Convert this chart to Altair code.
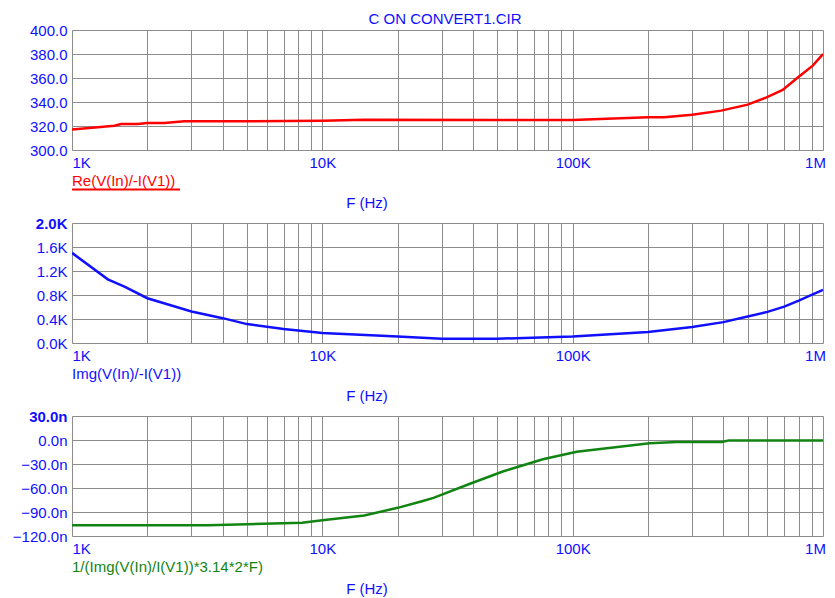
import altair as alt
import pandas as pd

# ---- data ----
title_text = "C ON CONVERT1.CIR"
x_title = "F (Hz)"

re_label = "Re(V(In)/-I(V1))"
re_freq = [1000, 1267, 1477, 1570, 1830, 2000, 2340, 2810, 5000, 10000, 14700, 50000,
           100000, 200000, 232000, 300000, 392000, 500000, 595000, 690000, 800000, 910000, 1000000]
re_vals = [317.0, 318.9, 320.2, 321.7, 321.7, 322.5, 322.5, 323.9, 324.0, 324.4, 325.2, 325.0,
           325.0, 327.2, 327.2, 329.4, 332.8, 337.8, 343.9, 350.0, 361.0, 370.3, 380.0]

img_label = "Img(V(In)/-I(V1))"
img_freq = [1000, 1390, 1620, 2000, 3000, 4000, 5000, 7000, 10000, 20000, 30000, 50000,
            100000, 200000, 300000, 400000, 500000, 600000, 700000, 800000, 900000, 1000000]
img_vals = [1502, 1061, 939, 746, 524, 414, 315, 232, 166, 110, 71, 71,
            110, 182, 265, 348, 441, 519, 607, 706, 801, 884]

cap_label = "1/(Img(V(In)/I(V1))*3.14*2*F)"
cap_freq = [1000, 3500, 8300, 10000, 14700, 20000, 25000, 27800, 38900, 52600, 76000,
            103800, 203000, 260000, 395000, 420000, 1000000]
cap_vals = [-106.7, -106.7, -103.4, -100.2, -94.3, -84.8, -76.6, -72.4, -54.7, -39.4, -24.0,
            -14.6, -4.2, -2.6, -2.6, -0.5, -0.5]

re_ticks = [300, 320, 340, 360, 380, 400]
img_ticks = [0, 400, 800, 1200, 1600, 2000]
cap_ticks = [-120, -90, -60, -30, 0, 30]

# ---- styling ----
W, H = 751, 120
BLUE = "#1010ff"
RED = "#ff0000"
GREEN = "#128412"
GRID = "#8c8c8c"
FONT = "Liberation Sans"
FS = 15

grid_vals = [m * 10 ** e for e in (3, 4, 5) for m in range(1, 10)] + [1000000]
x_label_expr = ("datum.value==1000?'1K':datum.value==10000?'10K':"
                "datum.value==100000?'100K':datum.value==1000000?'1M':''")


def x_enc():
    return alt.X(
        "f:Q",
        scale=alt.Scale(type="log", domain=[1000, 1000000], nice=False),
        axis=alt.Axis(
            values=grid_vals, labelExpr=x_label_expr, ticks=False, domain=False,
            grid=True, gridColor=GRID, gridWidth=1, labelColor=BLUE, labelFont=FONT,
            labelFontSize=FS, labelPadding=5, labelBaseline="top", labelFlush=False,
            labelOverlap=False,
            labelAlign={"condition": {"test": "datum.value == 1000", "value": "left"},
                        "value": "center"},
            labelOffset={"condition": {"test": "datum.value == 1000000", "value": -8},
                         "value": 0},
            title=None,
        ),
    )


def y_enc(domain, ticks, label_expr, bold_top):
    weight = "normal"
    if bold_top:
        weight = {"condition": {"test": "datum.value == %s" % ticks[-1], "value": "bold"},
                  "value": "normal"}
    return alt.Y(
        "v:Q",
        scale=alt.Scale(domain=domain, nice=False, zero=False),
        axis=alt.Axis(
            values=ticks, labelExpr=label_expr, ticks=False, domain=False, grid=True,
            gridColor=GRID, gridWidth=1, labelColor=BLUE, labelFont=FONT,
            labelFontSize=FS, labelPadding=5, labelOverlap=False,
            labelFontWeight=weight, title=None,
        ),
    )


def panel(freq, vals, color, label, domain, ticks, label_expr, bold_top,
          underline=False, title=None):
    df = pd.DataFrame({"f": freq, "v": vals})
    line = alt.Chart(df).mark_line(color=color, strokeWidth=2.5, clip=True).encode(
        x=x_enc(), y=y_enc(domain, ticks, label_expr, bold_top)
    )
    one = pd.DataFrame({"t": [label]})
    lab = alt.Chart(one).mark_text(
        align="left", baseline="alphabetic", font=FONT, fontSize=FS, color=color
    ).encode(x=alt.value(0), y=alt.value(H + 36), text="t:N")
    fh = alt.Chart(pd.DataFrame({"t": [x_title]})).mark_text(
        align="center", baseline="alphabetic", font=FONT, fontSize=FS, color=BLUE
    ).encode(x=alt.value(295), y=alt.value(H + 58), text="t:N")
    layers = [line, lab, fh]
    if underline:
        ul = alt.Chart(one).mark_rule(color=color, strokeWidth=2).encode(
            x=alt.value(0), x2=alt.value(108), y=alt.value(H + 39.5)
        )
        layers.append(ul)
    if title:
        tt = alt.Chart(pd.DataFrame({"t": [title]})).mark_text(
            align="center", baseline="alphabetic", font=FONT, fontSize=FS, color=BLUE
        ).encode(x=alt.value(373), y=alt.value(-6), text="t:N")
        layers.append(tt)
    return alt.layer(*layers).properties(width=W, height=H)


p1 = panel(re_freq, re_vals, RED, re_label, [300, 400], re_ticks,
           "format(datum.value, '.1f')", False, underline=True, title=title_text)
p2 = panel(img_freq, img_vals, BLUE, img_label, [0, 2000], img_ticks,
           "format(datum.value / 1000, '.1f') + 'K'", True)
p3 = panel(cap_freq, cap_vals, GREEN, cap_label, [-120, 30], cap_ticks,
           "format(datum.value, '.1f') + 'n'", True)

chart = (
    alt.vconcat(p1, p2, p3, spacing=73, bounds="flush")
    .properties(padding={"left": 3, "top": 3, "right": 0, "bottom": 0})
    .configure_view(stroke=GRID, strokeWidth=1)
    .configure(background="white")
)

chart.save("out.html", embed_options={"renderer": "svg", "actions": False})
